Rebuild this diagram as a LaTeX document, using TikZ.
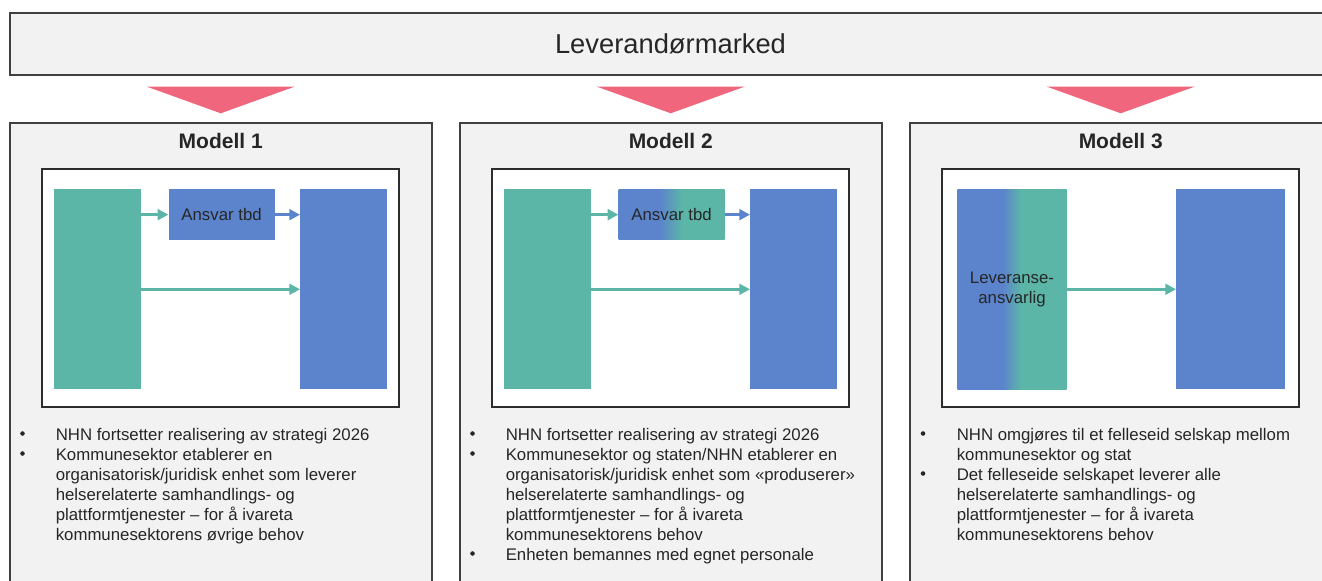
\documentclass[tikz,border=0pt]{standalone}
\usepackage{fontspec}
\setmainfont{Liberation Sans}
\usetikzlibrary{arrows.meta,fit}
\definecolor{cgreen}{RGB}{91,182,167}
\definecolor{cblue}{RGB}{92,132,204}
\definecolor{cpink}{RGB}{240,103,125}
\definecolor{cpanel}{RGB}{242,242,242}
\definecolor{cborder}{RGB}{64,64,64}
\definecolor{cinner}{RGB}{45,45,45}
\definecolor{ctext}{RGB}{38,38,38}
\pgfdeclarehorizontalshading{bgA}{100bp}{color(0bp)=(cblue); color(44.5bp)=(cblue); color(55bp)=(cgreen); color(100bp)=(cgreen)}
\pgfdeclarehorizontalshading{bgB}{100bp}{color(0bp)=(cblue); color(46bp)=(cblue); color(54bp)=(cgreen); color(100bp)=(cgreen)}
\begin{document}
\begin{tikzpicture}[x=0.75pt,y=-0.75pt,
  panel/.style={draw=cborder, line width=1.5pt, fill=cpanel, inner sep=0pt},
  innerbox/.style={draw=cinner, line width=1.5pt, fill=white, inner sep=0pt},
  gblock/.style={fill=cgreen, inner sep=0pt},
  bblock/.style={fill=cblue, inner sep=0pt},
  lbl/.style={text=ctext, font=\fontsize{12.6}{15}\selectfont, inner sep=0pt},
  toplbl/.style={text=ctext, font=\fontsize{20.5}{24}\selectfont, inner sep=0pt},
  ttl/.style={text=ctext, font=\bfseries\fontsize{15.75}{18}\selectfont, anchor=base, inner sep=0pt},
  garrow/.style={draw=cgreen, line width=2.25pt, -{Triangle[length=8pt,width=8pt]}},
  barrow/.style={draw=cblue, line width=2.25pt, -{Triangle[length=8pt,width=8pt]}},
  dot/.style={circle, fill=ctext, inner sep=0pt, minimum size=3.4pt},
  itemtext/.style={anchor=base west, inner sep=0pt, text=ctext, font=\fontsize{12.6}{15}\selectfont},
  tri/.style={fill=cpink}
]
\useasboundingbox (0,0) rectangle (1322,581);
\clip (0,0) rectangle (1322,581);
\fill[white] (0,0) rectangle (1322,581);

% top bar
\node[panel, fit={(9.5,13) (1331.5,75.5)}, label={[toplbl]center:Leverandørmarked}] (top) {};

% triangles
\fill[tri] (147,86.7) -- (294.5,86.7) -- (220.75,113.3) -- cycle;
\fill[tri] (597,86.7) -- (744.5,86.7) -- (670.75,113.3) -- cycle;
\fill[tri] (1047,86.7) -- (1194.5,86.7) -- (1120.75,113.3) -- cycle;

% ===== Modell 1 =====
\node[panel, fit={(10,123) (431.5,620)}] (m1) {};
\node[ttl] (m1title) at (220.75,148.3) {Modell 1};
\node[innerbox, fit={(42,169.3) (399.3,407.3)}] (m1in) {};
\node[gblock, fit={(53.6,189.3) (141,389.3)}] (m1g) {};
\node[bblock, fit={(168.6,189.3) (274.6,240)}, label={[lbl]center:Ansvar tbd}] (m1a) {};
\node[bblock, fit={(300.3,189.3) (387,389.3)}] (m1b) {};
\draw[garrow] (m1g.east |- m1a.west) -- (m1a.west);
\draw[barrow] (m1a.east) -- (m1a.east -| m1b.west);
\draw[garrow] (m1g.east) -- (m1b.west);
\node[dot] (m1d1) at (22.5,433.5) {};
\node[itemtext] (m1t1) at (55.5,440) {\parbox[t]{340pt}{\raggedright NHN fortsetter realisering av strategi 2026}};
\node[dot] (m1d2) at (22.5,453.5) {};
\node[itemtext] (m1t2) at (55.5,460) {\parbox[t]{340pt}{\raggedright Kommunesektor etablerer en\\organisatorisk/juridisk enhet som leverer\\helserelaterte samhandlings- og\\plattformtjenester – for å ivareta\\kommunesektorens øvrige behov}};

% ===== Modell 2 =====
\node[panel, fit={(460,123) (881.5,620)}] (m2) {};
\node[ttl] (m2title) at (670.75,148.3) {Modell 2};
\node[innerbox, fit={(492,169.3) (849.3,407.3)}] (m2in) {};
\node[gblock, fit={(503.6,189.3) (591,389.3)}] (m2g) {};
\node[shading=bgA, inner sep=0pt, fit={(618.6,189.3) (724.6,240)}, label={[lbl]center:Ansvar tbd}] (m2a) {};
\node[bblock, fit={(750.3,189.3) (837,389.3)}] (m2b) {};
\draw[garrow] (m2g.east |- m2a.west) -- (m2a.west);
\draw[barrow] (m2a.east) -- (m2a.east -| m2b.west);
\draw[garrow] (m2g.east) -- (m2b.west);
\node[dot] (m2d1) at (472.5,433.5) {};
\node[itemtext] (m2t1) at (505.5,440) {\parbox[t]{340pt}{\raggedright NHN fortsetter realisering av strategi 2026}};
\node[dot] (m2d2) at (472.5,453.5) {};
\node[itemtext] (m2t2) at (505.5,460) {\parbox[t]{340pt}{\raggedright Kommunesektor og staten/NHN etablerer en\\organisatorisk/juridisk enhet som «produserer»\\helserelaterte samhandlings- og\\plattformtjenester – for å ivareta\\kommunesektorens behov}};
\node[dot] (m2d3) at (472.5,553.5) {};
\node[itemtext] (m2t3) at (505.5,560) {\parbox[t]{340pt}{\raggedright Enheten bemannes med egnet personale}};

% ===== Modell 3 =====
\node[panel, fit={(910,123) (1331.5,620)}] (m3) {};
\node[ttl] (m3title) at (1120.75,148.3) {Modell 3};
\node[innerbox, fit={(942,169.3) (1299.3,407.3)}] (m3in) {};
\node[shading=bgB, inner sep=0pt, fit={(957.3,189.3) (1066.7,389.3)}, label={[lbl, align=center]center:Leveranse-\\ansvarlig}] (m3l) {};
\node[bblock, fit={(1176.3,189.3) (1285,389.3)}] (m3b) {};
\draw[garrow] (m3l.east) -- (m3b.west);
\node[dot] (m3d1) at (923,433.5) {};
\node[itemtext] (m3t1) at (956.5,440) {\parbox[t]{340pt}{\raggedright NHN omgjøres til et felleseid selskap mellom\\kommunesektor og stat}};
\node[dot] (m3d2) at (923,473.5) {};
\node[itemtext] (m3t2) at (956.5,480) {\parbox[t]{340pt}{\raggedright Det felleseide selskapet leverer alle\\helserelaterte samhandlings- og\\plattformtjenester – for å ivareta\\kommunesektorens behov}};
\end{tikzpicture}
\end{document}
